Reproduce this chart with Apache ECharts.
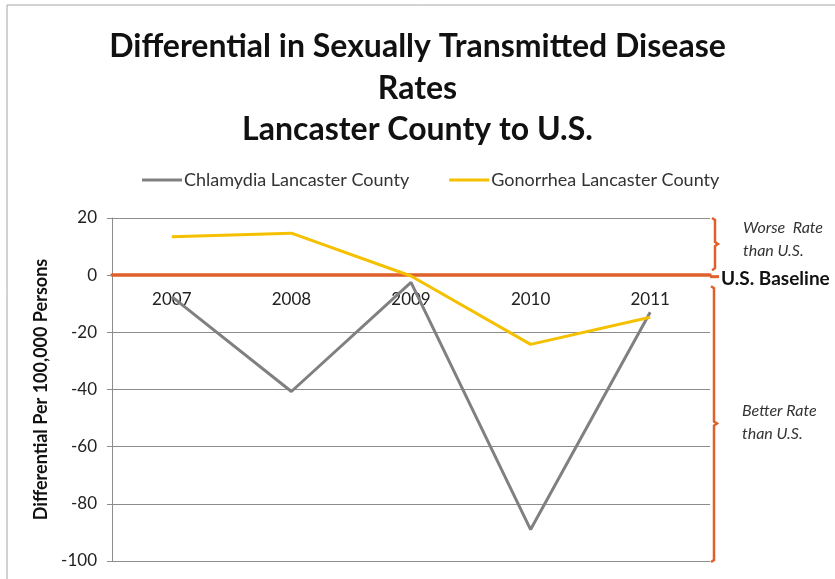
<!DOCTYPE html>
<html>
<head>
<meta charset="utf-8">
<script src="https://cdn.jsdelivr.net/npm/echarts@6/dist/echarts.min.js"></script>
<style>
  html, body { margin: 0; padding: 0; background: #fff; }
  #chart { width: 835px; height: 579px; }
</style>
</head>
<body>
<div id="chart"></div>
<script>
// ---- data ----
const years = ['2007', '2008', '2009', '2010', '2011'];
const chlamydia = [-7.5, -40.7, -2.5, -89, -13];
const gonorrhea = [13.4, 14.7, -0.3, -24.2, -14.7];
const yTicks = { min: -100, max: 20, interval: 20 };
const titleLines = ['Differential in Sexually Transmitted Disease', 'Rates', 'Lancaster County to U.S.'];
const seriesNames = ['Chlamydia Lancaster County', 'Gonorrhea Lancaster County'];

const ORANGE = '#E0602C';
const GRAY = '#808080';
const GOLD = '#F5C000';
const FONT = 'Lato, "Open Sans", sans-serif';

const chart = echarts.init(document.getElementById('chart'));
const baseOption = {
  animation: false,
  backgroundColor: '#fff',
  textStyle: { fontFamily: FONT },
  title: {
    text: titleLines.join('\n'),
    left: 'center',
    top: 21,
    textStyle: { fontFamily: FONT, fontSize: 32, fontWeight: 'bold', color: '#111', lineHeight: 41.5 }
  },
  legend: {
    left: 137,
    top: 166,
    itemWidth: 40,
    itemHeight: 3,
    itemGap: 40,
    icon: 'rect',
    textStyle: { fontFamily: FONT, fontSize: 18, color: '#333', padding: [0, 0, 0, -3] },
    data: seriesNames
  },
  grid: { left: 112, right: 125, top: 218, bottom: 18, containLabel: false, outerBoundsMode: 'none' },
  xAxis: {
    type: 'category',
    data: years,
    boundaryGap: true,
    position: 'bottom',
    axisLine: { onZero: false, lineStyle: { color: ORANGE, width: 3.5 } },
    axisTick: { show: false },
    axisLabel: { fontFamily: FONT, fontSize: 17, color: '#222', margin: 16 },
    splitLine: { show: false }
  },
  yAxis: {
    type: 'value',
    min: yTicks.min,
    max: yTicks.max,
    interval: yTicks.interval,
    name: 'Differential Per 100,000 Persons',
    nameLocation: 'middle',
    nameGap: 57,
    nameTextStyle: { fontFamily: FONT, fontSize: 18, fontWeight: 'bold', color: '#111' },
    axisLine: { show: true, lineStyle: { color: '#8c8c8c', width: 1 } },
    axisTick: { show: true, length: 5, lineStyle: { color: '#8c8c8c' } },
    axisLabel: { fontFamily: FONT, fontSize: 17, color: '#222', margin: 15 },
    splitLine: { show: true, lineStyle: { color: '#8c8c8c', width: 1 } }
  },
  series: [
    { name: seriesNames[0], type: 'line', data: chlamydia, symbol: 'none',
      lineStyle: { color: GRAY, width: 3 }, itemStyle: { color: GRAY } },
    { name: seriesNames[1], type: 'line', data: gonorrhea, symbol: 'none',
      lineStyle: { color: GOLD, width: 3 }, itemStyle: { color: GOLD } }
  ]
};
chart.setOption(baseOption);

// ---- move the category axis to the zero line, using the chart's own scale ----
const yPix = v => chart.convertToPixel({ yAxisIndex: 0 }, v);
const rect = chart.getModel().getComponent('grid').coordinateSystem.getRect();
const xr = rect.x + rect.width;
const y20 = yPix(20), y0 = yPix(0), yMin = yPix(-100);
chart.setOption({ xAxis: { offset: -(rect.y + rect.height - y0) } });

function brace(xv, yTop, yBot, yMid) {
  return {
    type: 'polyline',
    shape: { points: [[xv - 3, yTop], [xv, yTop + 2], [xv, yMid - 2], [xv + 3, yMid], [xv, yMid + 2], [xv, yBot - 2], [xv - 3, yBot]] },
    style: { stroke: ORANGE, lineWidth: 2.5, fill: null },
    z: 100
  };
}

chart.setOption({
  graphic: [
    { type: 'rect', shape: { x: 7, y: 5, width: 1000, height: 1000 }, style: { fill: null, stroke: '#a6a6a6', lineWidth: 1 }, silent: true, z: -1 },
    brace(xr + 5, y20, y0 - 5, (y20 + y0 - 5) / 2),
    brace(xr + 4, y0 + 11, yMin + 1, (y0 + 11 + yMin) / 2),
    { type: 'line', shape: { x1: xr, y1: y0 + 1.5, x2: xr + 9, y2: y0 + 1.5 }, style: { stroke: ORANGE, lineWidth: 3 }, z: 100 },
    { type: 'text', x: xr + 11, y: y0 + 4, style: { text: 'U.S. Baseline', font: 'bold 19px ' + FONT, fill: '#111', verticalAlign: 'middle' }, z: 100 },
    { type: 'text', x: xr + 33, y: y20 + 21, style: { text: 'Worse  Rate\nthan U.S.', font: 'italic 16px ' + FONT, fill: '#333', lineHeight: 23, verticalAlign: 'middle' }, z: 100 },
    { type: 'text', x: xr + 32, y: (y0 + yMin) / 2 + 4, style: { text: 'Better Rate\nthan U.S.', font: 'italic 16px ' + FONT, fill: '#333', lineHeight: 23, verticalAlign: 'middle' }, z: 100 }
  ]
});
</script>
</body>
</html>
